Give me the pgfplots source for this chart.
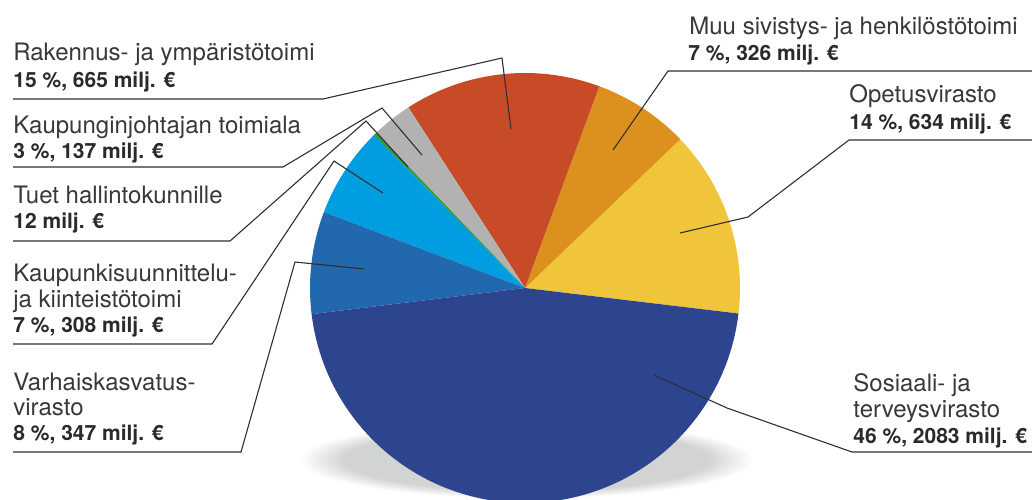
\documentclass[border=0pt]{standalone}
\usepackage{fontspec}
\setmainfont{TeX Gyre Heros}
\usepackage{pgfplots}
\usepackage{pgfplotstable}
\pgfplotsset{compat=1.18}
\definecolor{cOpetus}{HTML}{F0C53A}
\definecolor{cMuu}{HTML}{DC901D}
\definecolor{cRak}{HTML}{C84B27}
\definecolor{cKjoh}{HTML}{B1B2B1}
\definecolor{cTuet}{HTML}{3A9A3A}
\definecolor{cKsuun}{HTML}{009EE0}
\definecolor{cVarh}{HTML}{2268AF}
\definecolor{cSos}{HTML}{2D448F}
\definecolor{cShadow}{HTML}{D2D4D3}
\definecolor{cText}{HTML}{2A2A2A}
\definecolor{cName}{HTML}{383838}
\definecolor{cLine}{HTML}{303030}
% values in millions of euros, counter-clockwise from the right
\pgfplotstableread{
value col
634 cOpetus
326 cMuu
665 cRak
137 cKjoh
12 cTuet
308 cKsuun
347 cVarh
2083 cSos
}\piedata
\begin{document}
\begin{tikzpicture}[
  lbl/.style={anchor=base west,inner sep=0pt,font=\fontsize{12}{13}\selectfont,text=cName},
  val/.style={anchor=base west,inner sep=0pt,font=\fontsize{10.5}{12}\selectfont\bfseries,text=cText},
  leader/.style={draw=cLine,line width=0.55pt}]
\begin{axis}[x=0.5pt,y=0.5pt,xmin=0,xmax=1032,ymin=0,ymax=499,y dir=reverse,
  hide axis,scale only axis,clip=true]
\pgfplotsextra{
  % soft shadow under the pie
  \foreach \k in {0,...,16} {
    \pgfmathsetmacro\f{1-0.016*\k}
    \pgfmathsetmacro\m{min(100,\k*8)}
    \fill[cShadow!\m!white] (axis cs:527,460) ellipse [x radius=114.5pt*\f, y radius=19.5pt*\f];
  }
  \xdef\pietotal{0}
  \foreach \i in {0,...,7} {
    \pgfplotstablegetelem{\i}{value}\of\piedata
    \pgfmathsetmacro\tmp{\pietotal+\pgfplotsretval}
    \xdef\pietotal{\tmp}
  }
  \xdef\sa{-6.8}
  \foreach \i in {0,...,7} {
    \pgfplotstablegetelem{\i}{value}\of\piedata \let\sliceval\pgfplotsretval
    \pgfplotstablegetelem{\i}{col}\of\piedata \let\slicecol\pgfplotsretval
    \pgfmathsetmacro\ea{\sa+\sliceval/\pietotal*360}
    \fill[color=\slicecol] (axis cs:525,288) -- ++(\sa:107.5pt) arc[start angle=\sa, end angle=\ea, radius=107.5pt] -- cycle;
    \xdef\sa{\ea}
  }
}
% leader lines
\draw[leader] (axis cs:13,99) -- (axis cs:323,99) -- (axis cs:502,58) -- (axis cs:511,129);
\draw[leader] (axis cs:13,167) -- (axis cs:283,167) -- (axis cs:382,108) -- (axis cs:422,155);
\draw[leader] (axis cs:13,241) -- (axis cs:230,241) -- (axis cs:366,121) -- (axis cs:408,167);
\draw[leader] (axis cs:13,344) -- (axis cs:212,344) -- (axis cs:334,161) -- (axis cs:383,193);
\draw[leader] (axis cs:13,452) -- (axis cs:241,452) -- (axis cs:295,262) -- (axis cs:364,269);
\draw[leader] (axis cs:1032,71) -- (axis cs:668,71) -- (axis cs:613,150);
\draw[leader] (axis cs:1032,140) -- (axis cs:849,140) -- (axis cs:748,217) -- (axis cs:680,233);
\draw[leader] (axis cs:1032,452) -- (axis cs:852,452) -- (axis cs:727,408) -- (axis cs:654,375);
% labels
\node[lbl] at (axis cs:13,60) {Rakennus- ja ympäristötoimi};
\node[val] at (axis cs:13,87) {15 \%, 665 milj. €};
\node[lbl] at (axis cs:13,133) {Kaupunginjohtajan toimiala};
\node[val] at (axis cs:13,158) {3 \%, 137 milj. €};
\node[lbl] at (axis cs:13,203) {Tuet hallintokunnille};
\node[val] at (axis cs:13,228) {12 milj. €};
\node[lbl] at (axis cs:13,281) {Kaupunkisuunnittelu-};
\node[lbl] at (axis cs:13,307) {ja kiinteistötoimi};
\node[val] at (axis cs:13,332) {7 \%, 308 milj. €};
\node[lbl] at (axis cs:13,390) {Varhaiskasvatus-};
\node[lbl] at (axis cs:13,415) {virasto};
\node[val] at (axis cs:13,440) {8 \%, 347 milj. €};
\node[lbl] at (axis cs:689,34) {Muu sivistys- ja henkilöstötoimi};
\node[val] at (axis cs:688,60) {7 \%, 326 milj. €};
\node[lbl] at (axis cs:849,102) {Opetusvirasto};
\node[val] at (axis cs:849,129) {14 \%, 634 milj. €};
\node[lbl] at (axis cs:853,391) {Sosiaali- ja};
\node[lbl] at (axis cs:853,417) {terveysvirasto};
\node[val] at (axis cs:853,443) {46 \%, 2083 milj. €};
\end{axis}
\pgfresetboundingbox
\useasboundingbox (current axis.south west) rectangle (current axis.north east);
\end{tikzpicture}
\end{document}
